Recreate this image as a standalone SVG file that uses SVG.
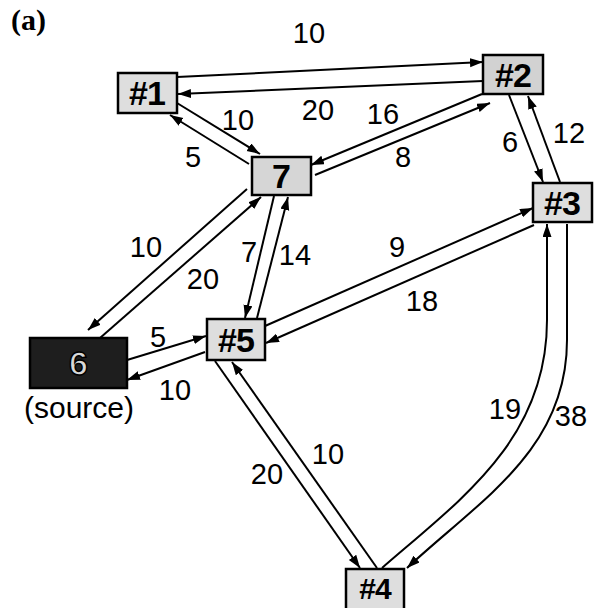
<svg xmlns="http://www.w3.org/2000/svg" width="604" height="608" viewBox="0 0 604 608">
<defs>
<marker id="ah" markerUnits="userSpaceOnUse" markerWidth="14" markerHeight="10" refX="13" refY="4.5" orient="auto">
<path d="M0,0 L13,4.5 L0,9 z" fill="#000"/>
</marker>
</defs>
<style>
.box{fill:#dedede;stroke:#000;stroke-width:2.5}
.nl{font-family:"Liberation Sans",Arial,sans-serif;font-weight:bold;font-size:34px;text-anchor:middle;letter-spacing:-1px}
.el{font-family:"Liberation Sans",Arial,sans-serif;font-size:29px;text-anchor:middle}
.e{stroke:#000;stroke-width:2;fill:none;marker-end:url(#ah)}
.cap{font-family:"Liberation Serif","Times New Roman",serif;font-weight:bold;font-size:30px}
</style>
<rect width="604" height="608" fill="#fff"/>
<text class="cap" x="11" y="30">(a)</text>
<g id="connectors">
<line class="e" x1="177" y1="77" x2="483" y2="62"/>
<line class="e" x1="483" y1="81" x2="178" y2="94"/>
<line class="e" x1="177" y1="103" x2="260" y2="154"/>
<line class="e" x1="249" y1="164" x2="170" y2="115"/>
<line class="e" x1="482" y1="94" x2="311" y2="165"/>
<line class="e" x1="315" y1="175" x2="490" y2="103"/>
<line class="e" x1="509" y1="95" x2="543" y2="182"/>
<line class="e" x1="560" y1="182" x2="528" y2="96"/>
<line class="e" x1="265" y1="326" x2="533" y2="208"/>
<line class="e" x1="534" y1="225" x2="266" y2="343"/>
<line class="e" x1="247" y1="189" x2="88" y2="330"/>
<line class="e" x1="100" y1="338" x2="261" y2="197"/>
<line class="e" x1="274" y1="196" x2="245" y2="318"/>
<line class="e" x1="257" y1="318" x2="288" y2="197"/>
<line class="e" x1="127" y1="360" x2="206" y2="336"/>
<line class="e" x1="205" y1="352" x2="127" y2="380"/>
<line class="e" x1="215" y1="361" x2="360" y2="568"/>
<line class="e" x1="377" y1="568" x2="232" y2="362"/>
<path class="e" d="M382,568 C460,500 547,440 547,320 L547,224"/>
<path class="e" d="M567,224 L567,340 C567,450 480,500 407,568"/>
</g>
<g id="edge-labels">
<text class="el" x="309" y="43">10</text>
<text class="el" x="318" y="120">20</text>
<text class="el" x="238" y="130">10</text>
<text class="el" x="193" y="167">5</text>
<text class="el" x="383" y="124">16</text>
<text class="el" x="403" y="167">8</text>
<text class="el" x="510" y="152">6</text>
<text class="el" x="569" y="143">12</text>
<text class="el" x="397" y="257">9</text>
<text class="el" x="422" y="311">18</text>
<text class="el" x="146" y="257">10</text>
<text class="el" x="203" y="289">20</text>
<text class="el" x="249" y="262">7</text>
<text class="el" x="295" y="265">14</text>
<text class="el" x="158" y="347">5</text>
<text class="el" x="175" y="400">10</text>
<text class="el" x="267" y="484">20</text>
<text class="el" x="328" y="464">10</text>
<text class="el" x="505" y="419">19</text>
<text class="el" x="571" y="426">38</text>
</g>
<g id="n1"><rect class="box" x="118" y="73" width="59" height="40"/><text class="nl" x="147" y="105">#1</text></g>
<g id="n2"><rect class="box" x="483" y="55" width="60" height="39" style="fill:#d2d2d2"/><text class="nl" x="513" y="87">#2</text></g>
<g id="n3"><rect class="box" x="533" y="183" width="59" height="39"/><text class="nl" x="562" y="215">#3</text></g>
<g id="n7"><rect class="box" x="252" y="157" width="59" height="38" style="fill:#d6d6d6"/><text class="nl" x="281" y="188">7</text></g>
<g id="n5"><rect class="box" x="207" y="319" width="58" height="41"/><text class="nl" x="236" y="352">#5</text></g>
<g id="n6"><rect class="box" x="30" y="338" width="97" height="50" style="fill:#1e1e1e"/><text class="nl" x="78" y="375" style="fill:#d8d8d8;stroke:#000;stroke-width:1.5">6</text><text x="79" y="418" font-family="Liberation Sans,Arial,sans-serif" font-size="30" text-anchor="middle">(source)</text></g>
<g id="n4"><rect class="box" x="346" y="569" width="58" height="50"/><text class="nl" x="375" y="599" style="font-size:30px">#4</text></g>
</svg>
